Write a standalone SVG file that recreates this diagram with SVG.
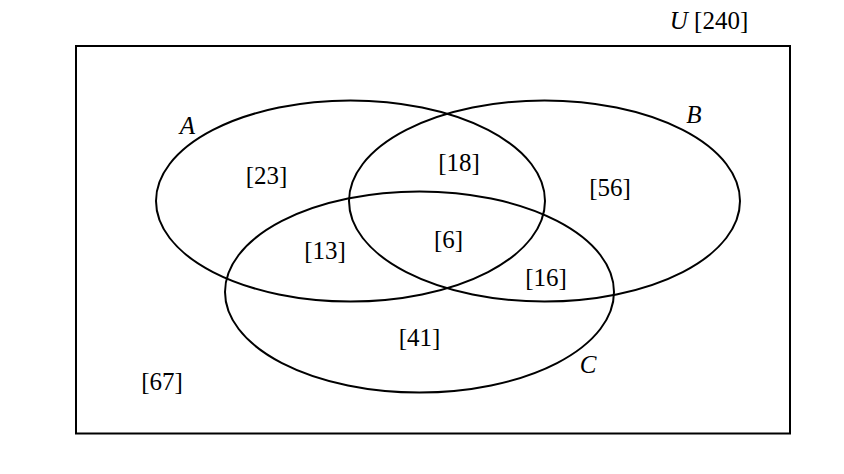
<svg xmlns="http://www.w3.org/2000/svg" width="844" height="474" viewBox="0 0 844 474">
<style>
  .shape { fill: none; stroke: #000; stroke-width: 2; }
  .num { font-family: "Liberation Serif", "Times New Roman", serif; font-size: 25px; fill: #000; text-anchor: middle; }
  .set { font-family: "Liberation Serif", "Times New Roman", serif; font-size: 25px; font-style: italic; fill: #000; text-anchor: middle; }
</style>
<rect width="844" height="474" fill="#fff"/>
<g id="universe">
  <rect class="shape" x="76" y="46" width="714" height="387.5"/>
  <text x="709" y="29" class="num"><tspan font-style="italic">U</tspan> [240]</text>
  <text x="162" y="390" class="num">[67]</text>
</g>
<g id="setA">
  <ellipse class="shape" cx="350.5" cy="201" rx="194.5" ry="100.5"/>
  <text x="187.5" y="134" class="set">A</text>
</g>
<g id="setB">
  <ellipse class="shape" cx="544.5" cy="201" rx="195.5" ry="100.5"/>
  <text x="694" y="123" class="set">B</text>
</g>
<g id="setC">
  <ellipse class="shape" cx="419.5" cy="292" rx="194.5" ry="100.5"/>
  <text x="588" y="373" class="set">C</text>
</g>
<g id="regions">
  <text x="266.5" y="184" class="num">[23]</text>
  <text x="459" y="171" class="num">[18]</text>
  <text x="610" y="196" class="num">[56]</text>
  <text x="325" y="259" class="num">[13]</text>
  <text x="448.5" y="248" class="num">[6]</text>
  <text x="546" y="286" class="num">[16]</text>
  <text x="419.5" y="346" class="num">[41]</text>
</g>
</svg>
